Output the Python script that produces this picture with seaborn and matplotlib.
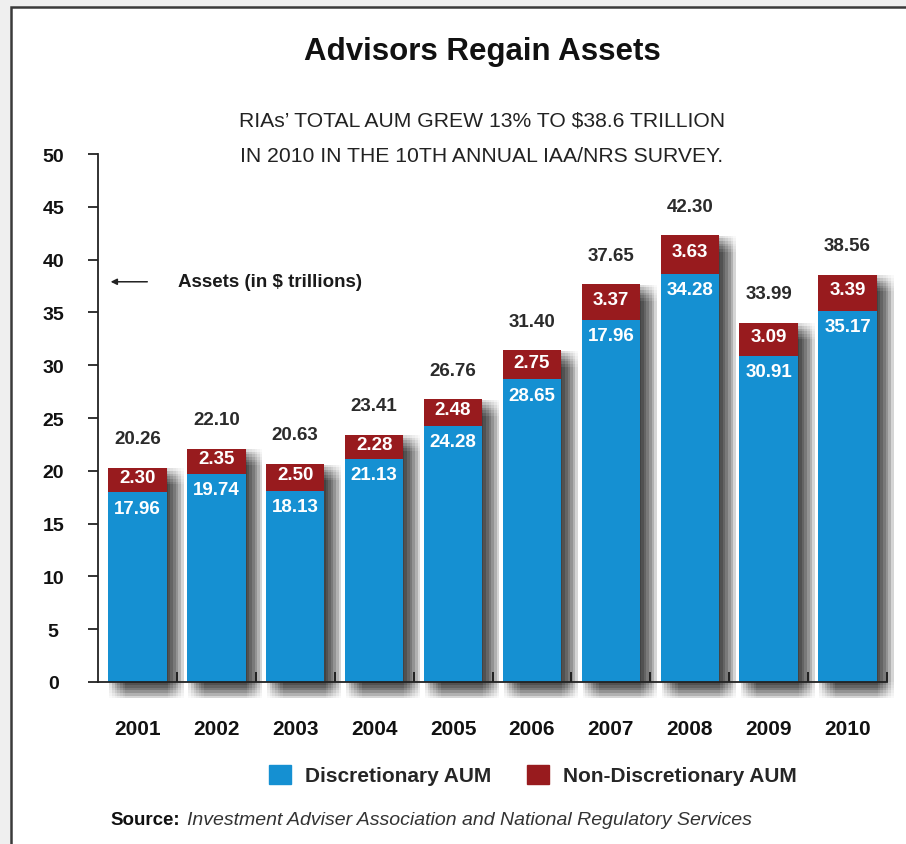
import numpy as np
import matplotlib
matplotlib.use("Agg")
import matplotlib.pyplot as plt
import matplotlib.patches as mpatches
import matplotlib.patheffects as pe
from matplotlib.ticker import FixedLocator
from matplotlib import font_manager
import seaborn as sns

# ---------------- data ----------------
years = ["2001", "2002", "2003", "2004", "2005", "2006", "2007", "2008", "2009", "2010"]
totals = [20.26, 22.10, 20.63, 23.41, 26.76, 31.40, 37.65, 42.30, 33.99, 38.56]
non_disc = [2.30, 2.35, 2.50, 2.28, 2.48, 2.75, 3.37, 3.63, 3.09, 3.39]
disc = [17.96, 19.74, 18.13, 21.13, 24.28, 28.65, 34.28, 38.67, 30.91, 35.17]
total_labels = ["20.26", "22.10", "20.63", "23.41", "26.76", "31.40", "37.65", "42.30", "33.99", "38.56"]
non_disc_labels = ["2.30", "2.35", "2.50", "2.28", "2.48", "2.75", "3.37", "3.63", "3.09", "3.39"]
disc_labels = ["17.96", "19.74", "18.13", "21.13", "24.28", "28.65", "17.96", "34.28", "30.91", "35.17"]
y_ticks = [0, 5, 10, 15, 20, 25, 30, 35, 40, 45, 50]

BLUE = "#1590d2"
RED = "#981b1e"

sns.set_theme(style="ticks")
plt.rcParams["font.family"] = ["Liberation Sans", "DejaVu Sans"]


def has_font(name):
    try:
        font_manager.findfont(font_manager.FontProperties(family=name), fallback_to_default=False)
        return True
    except Exception:
        return False


W, H = 906, 845
fig = plt.figure(figsize=(W / 100, H / 100), dpi=100)
fig.patch.set_facecolor("#efefef")
frame = mpatches.Rectangle((11 / W, -0.02), 1.2, (837 / H) + 0.02, transform=fig.transFigure,
                           facecolor="white", edgecolor="#3a3a3a", lw=1.8, zorder=-5)
fig.patches.append(frame)

ax = fig.add_axes([98 / W, 162 / H, 789 / W, 528 / H])
ax.set_zorder(2)
ax.set_facecolor("white")

# soft drop shadow: a blurred copy of each bar offset to the lower right
shadow = []
for i in range(-3, 4):
    for j in range(-3, 4):
        shadow.append(pe.SimplePatchShadow(offset=(6.5 + i * 1.9, -6.0 + j * 1.9),
                                           shadow_rgbFace="black", alpha=0.024))
shadow.append(pe.Normal())

sns.barplot(x=years, y=totals, color=RED, saturation=1, width=0.74, linewidth=0,
            errorbar=None, ax=ax)
for p in ax.patches:
    p.set_path_effects(shadow)
    p.set_clip_on(False)
n_first = len(ax.patches)
sns.barplot(x=years, y=disc, color=BLUE, saturation=1, width=0.74, linewidth=0,
            errorbar=None, ax=ax)
for p in ax.patches[n_first:]:
    p.set_clip_on(False)

ax.set_xlim(-0.5, 9.5)
ax.set_ylim(0, 50)
ax.set_xlabel("")
ax.set_ylabel("")

# y axis
ax.set_yticks(y_ticks)
ax.set_yticklabels([str(v) for v in y_ticks])
ax.tick_params(axis="y", direction="out", length=7.2, width=1.2, pad=25, labelsize=14,
               left=True, colors="#111111")
for lbl in ax.get_yticklabels():
    lbl.set_horizontalalignment("center")
    lbl.set_fontweight("bold")

# x axis
ax.tick_params(axis="x", which="major", length=0, pad=27, labelsize=15, colors="#111111")
for lbl in ax.get_xticklabels():
    lbl.set_fontweight("bold")
ax.xaxis.set_minor_locator(FixedLocator(np.arange(0.5, 10, 1)))
ax.tick_params(axis="x", which="minor", direction="in", length=7.5, width=1.2,
               bottom=True, color="#222222")

for s in ["top", "right"]:
    ax.spines[s].set_visible(False)
for s in ["left", "bottom"]:
    ax.spines[s].set_color("#222222")
    ax.spines[s].set_linewidth(1.3)

# value labels
for i in range(len(years)):
    ax.annotate(total_labels[i], (i, totals[i]), xytext=(0, 21), textcoords="offset points",
                ha="center", va="center", fontsize=13.5, fontweight="bold", color="#2b2b2b",
                annotation_clip=False)
    ax.annotate(non_disc_labels[i], (i, disc[i] + non_disc[i] / 2), xytext=(0, 2),
                textcoords="offset points", ha="center", va="center", fontsize=13.5,
                fontweight="bold", color="white")
    ax.annotate(disc_labels[i], (i, disc[i]), xytext=(0, -11.5), textcoords="offset points",
                ha="center", va="center", fontsize=13.5, fontweight="bold", color="white")

# axis annotation
ax.annotate("", xy=(-0.375, 37.9), xytext=(0.16, 37.9),
            arrowprops=dict(arrowstyle="-|>", color="#222222", lw=1.1, mutation_scale=9),
            annotation_clip=False)
ax.text(0.51, 37.9, r"Assets (in \$ trillions)", fontsize=13.5, fontweight="bold",
        va="center", ha="left", color="#1a1a1a")

# titles
fig.text(482 / W, 1 - 52 / H, "Advisors Regain Assets", ha="center", va="center",
         fontsize=22.5, fontweight="bold", color="#111111")
if has_font("Liberation Sans Narrow"):
    sub_family, sub_size = ["Liberation Sans Narrow", "DejaVu Sans"], 18.5
else:
    sub_family, sub_size = ["Liberation Sans", "DejaVu Sans"], 15.2
fig.text(482 / W, 1 - 121 / H, r"RIAs’ TOTAL AUM GREW 13% TO \$38.6 TRILLION", ha="center",
         va="center", fontsize=sub_size, family=sub_family, color="#222222")
fig.text(482 / W, 1 - 156 / H, "IN 2010 IN THE 10TH ANNUAL IAA/NRS SURVEY.", ha="center",
         va="center", fontsize=sub_size, family=sub_family, color="#222222")

# legend
handles = [mpatches.Patch(color=BLUE, label="Discretionary AUM"),
           mpatches.Patch(color=RED, label="Non-Discretionary AUM")]
fig.legend(handles=handles, loc="center", bbox_to_anchor=(533 / W, 1 - 776 / H), ncol=2,
           frameon=False, prop={"weight": "bold", "size": 15}, handlelength=1.05,
           handleheight=1.05, handletextpad=0.7, columnspacing=1.7)

# source
src = fig.text(110 / W, 1 - 821 / H, "Source:", ha="left", va="center", fontsize=13.5,
               fontweight="bold", color="#111111")
fig.add_artist(matplotlib.text.Annotation(
    "Investment Adviser Association and National Regulatory Services",
    xy=(1, 0.5), xycoords=src, xytext=(5, 0), textcoords="offset points",
    ha="left", va="center", fontsize=14, style="italic", color="#333333"))

fig.savefig("out.png", dpi=100, facecolor=fig.get_facecolor())
